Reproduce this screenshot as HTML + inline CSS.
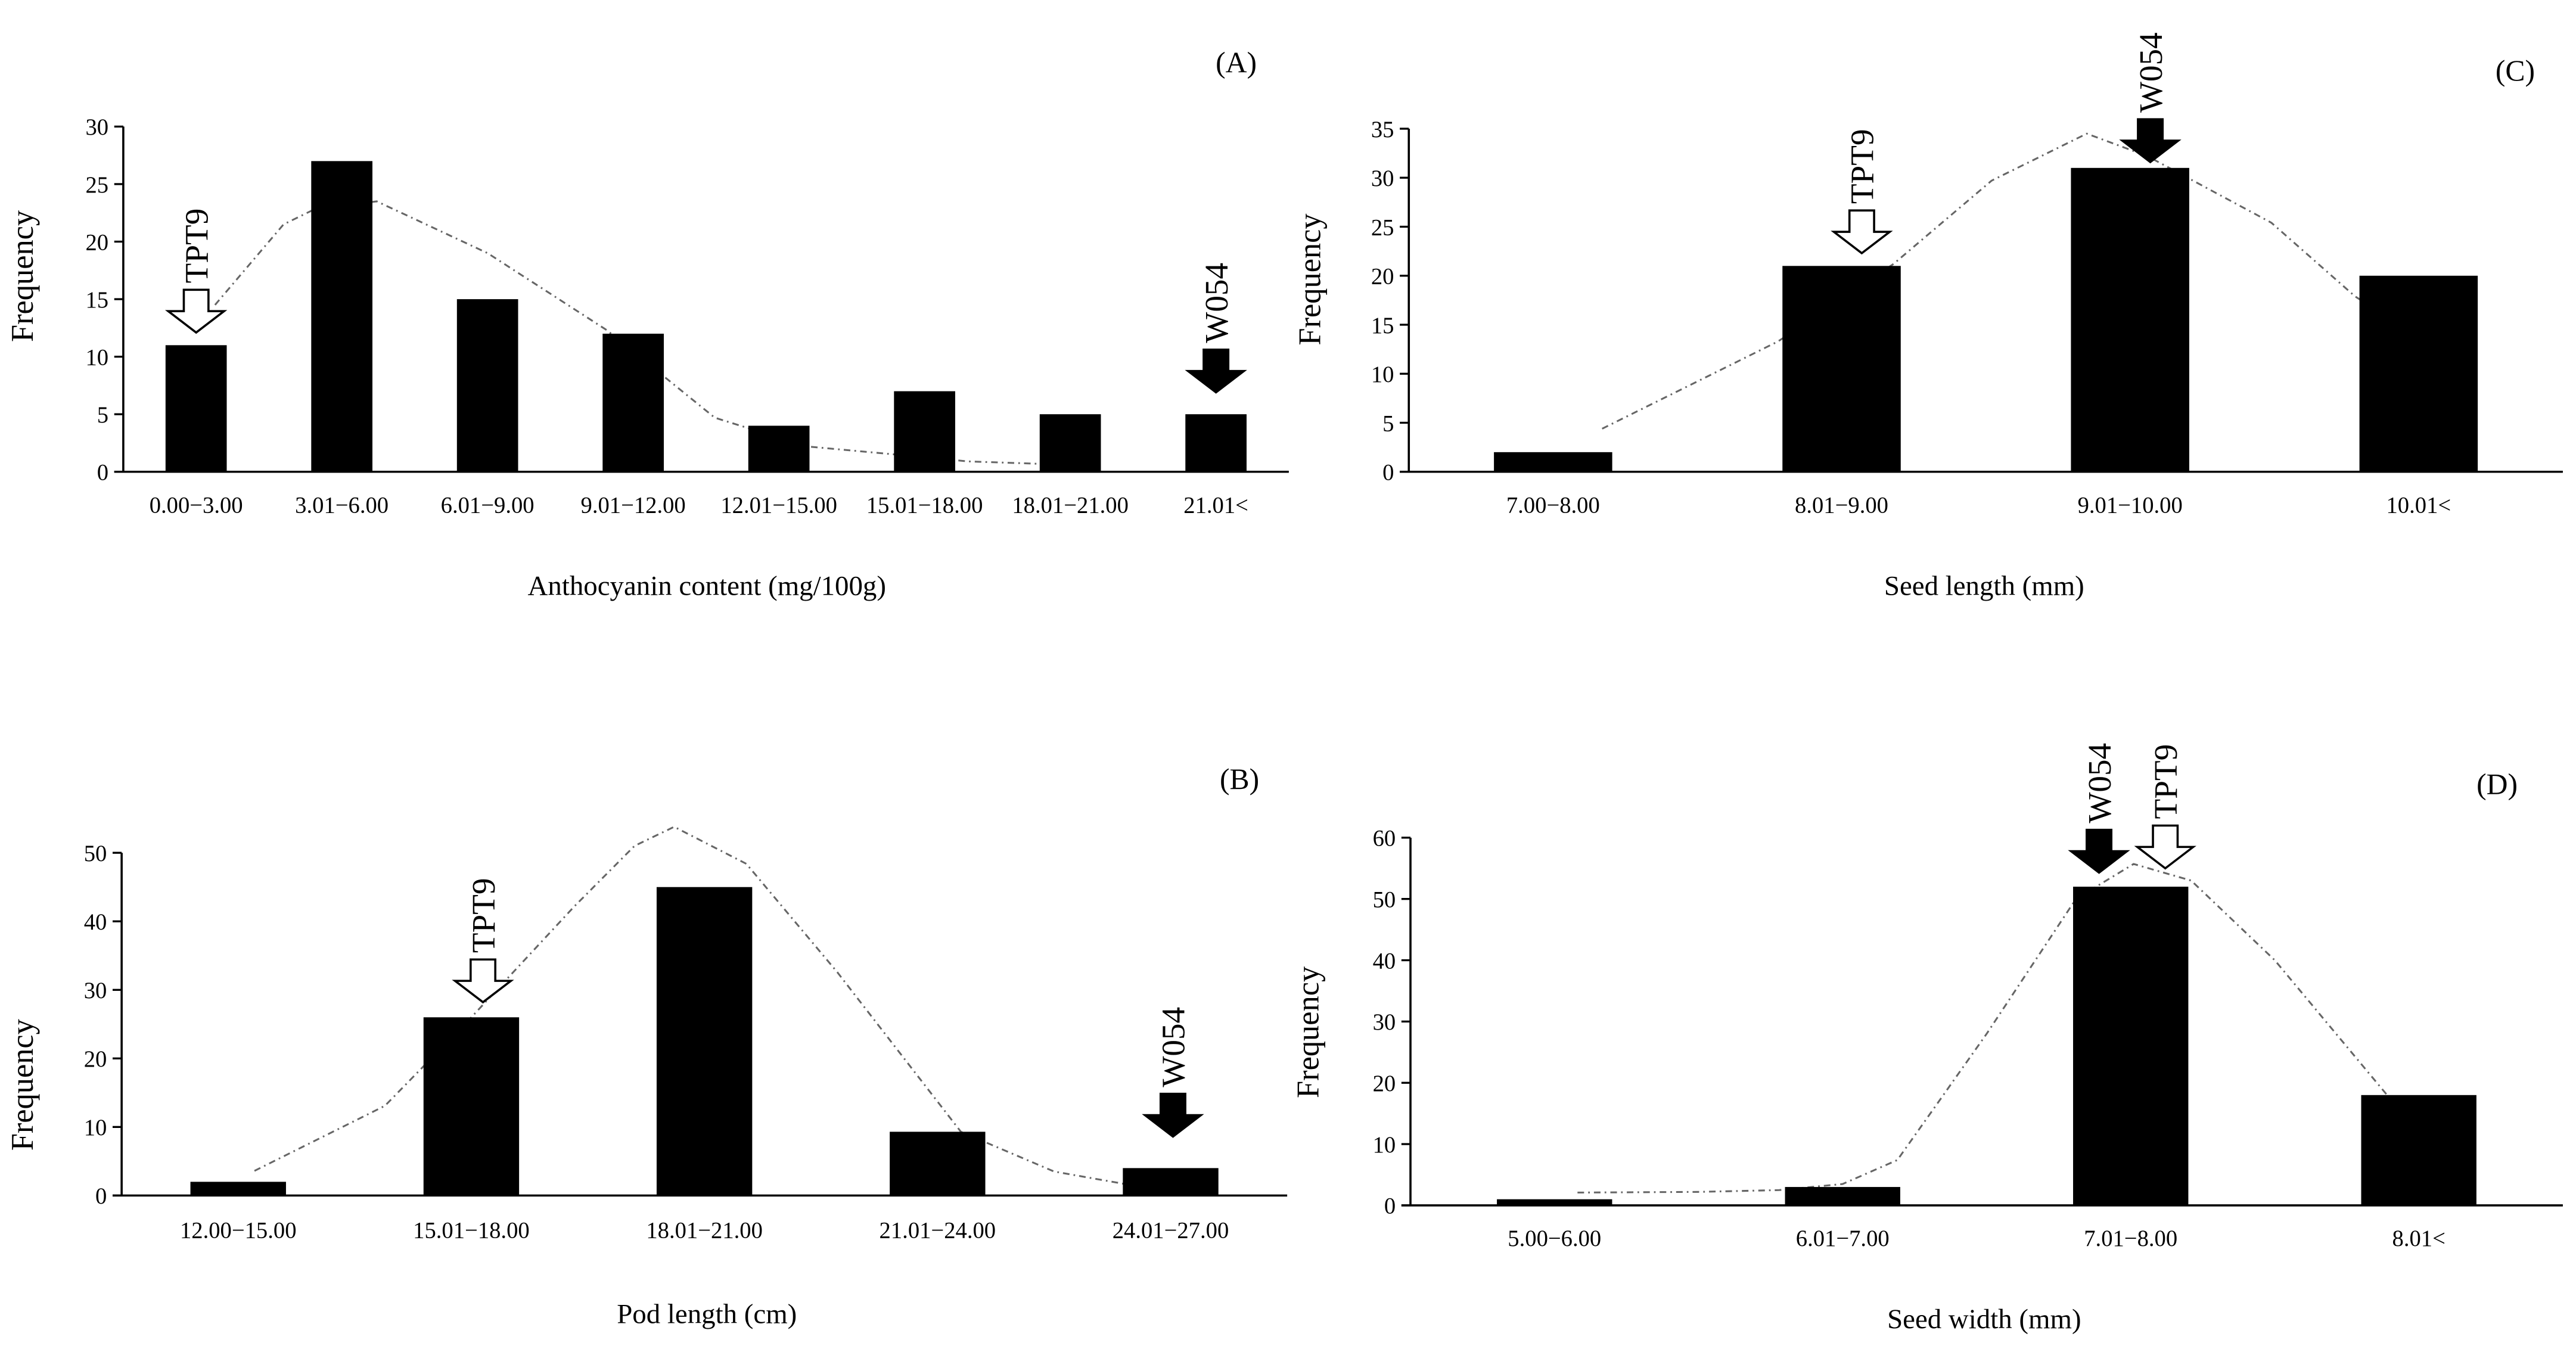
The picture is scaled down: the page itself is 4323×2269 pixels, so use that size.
<!DOCTYPE html>
<html><head><meta charset="utf-8">
<style>
html,body{margin:0;padding:0;background:#fff;}
svg{display:block;}
text{font-family:"Liberation Serif",serif;fill:#000;}
</style></head>
<body>
<svg id="fig" width="4323" height="2269" viewBox="0 0 1567 822.5" preserveAspectRatio="none" xmlns="http://www.w3.org/2000/svg">
<rect x="0" y="0" width="1567" height="822.5" fill="#fff"/>
</svg>
<script>
// Panel A data (curve x in category-index units, 0 = first bar center)
const catsA = ["0.00\u22123.00","3.01\u22126.00","6.01\u22129.00","9.01\u221212.00","12.01\u221215.00","15.01\u221218.00","18.01\u221221.00","21.01<"];
const valsA = [11,27,15,12,4,7,5,5];
const ticksA = [0,5,10,15,20,25,30];
const curveXA = [0.13,0.6,0.81,1.24,2.0,2.82,3.56,4.19,4.8,5.3,6.1];
const curveYA = [14.5,21.5,22.8,23.5,19,12.3,4.7,2.2,1.5,0.9,0.55];
// Panel B data
const catsB = ["12.00\u221215.00","15.01\u221218.00","18.01\u221221.00","21.01\u221224.00","24.01\u221227.00"];
const valsB = [2,26,45,9.3,4];
const ticksB = [0,10,20,30,40,50];
const curveXB = [0.07,0.63,1.0,1.44,1.7,1.87,2.18,2.57,3.1,3.5,3.8];
const curveYB = [3.6,13.1,26,42.1,51,53.8,48.4,32.6,9.3,3.5,1.7];
// Panel C data
const catsC = ["7.00\u22128.00","8.01\u22129.00","9.01\u221210.00","10.01<"];
const valsC = [2,21,31,20];
const ticksC = [0,5,10,15,20,25,30,35];
const curveXC = [0.17,0.78,1.18,1.52,1.85,2.06,2.49,2.78,3.19];
const curveYC = [4.4,13.3,21.2,29.7,34.5,32.2,25.4,17.9,10.1];
// Panel D data
const catsD = ["5.00\u22126.00","6.01\u22127.00","7.01\u22128.00","8.01<"];
const valsD = [1,3,52,18];
const ticksD = [0,10,20,30,40,50,60];
const curveXD = [0.08,0.5,0.78,1.0,1.19,1.5,1.81,2.01,2.21,2.5,2.89];
const curveYD = [2.1,2.2,2.5,3.5,7.4,28,50,55.7,53,40,18];

const NS="http://www.w3.org/2000/svg";
const svg=document.getElementById('fig');
function mk(tag,attrs,parent){const e=document.createElementNS(NS,tag);for(const k in attrs)e.setAttribute(k,attrs[k]);(parent||svg).appendChild(e);return e;}

const panels=[
 {id:'a',label:'(A)',lx:752,ly:44,x0:75,x1:784,y0:287,yTop:77,ymax:30,cats:catsA,vals:valsA,ticks:ticksA,cx:curveXA,cy:curveYA,bw:0.42,
  title:'Anthocyanin content (mg/100g)',tx:430,ty:362,xly:312,fx:20,fy:168,
  arrows:[{kind:'hollow',idx:0.0,tip:12.1,name:'TPT9'},{kind:'filled',idx:7.0,tip:6.9,name:'W054'}]},
 {id:'b',label:'(B)',lx:754,ly:480,x0:74,x1:783,y0:727.3,yTop:518.8,ymax:50,cats:catsB,vals:valsB,ticks:ticksB,cx:curveXB,cy:curveYB,bw:0.41,
  title:'Pod length (cm)',tx:430,ty:805,xly:753,fx:20,fy:660,
  arrows:[{kind:'hollow',idx:1.05,tip:28.2,name:'TPT9'},{kind:'filled',idx:4.01,tip:8.6,name:'W054'}]},
 {id:'c',label:'(C)',lx:1530,ly:49,x0:857,x1:1559,y0:287,yTop:78.3,ymax:35,cats:catsC,vals:valsC,ticks:ticksC,cx:curveXC,cy:curveYC,bw:0.41,
  title:'Seed length (mm)',tx:1207,ty:362,xly:312,fx:803,fy:170,
  arrows:[{kind:'hollow',idx:1.07,tip:22.3,name:'TPT9'},{kind:'filled',idx:2.07,tip:31.6,name:'W054'}]},
 {id:'d',label:'(D)',lx:1519,ly:483,x0:858,x1:1559,y0:733.3,yTop:509.6,ymax:60,cats:catsD,vals:valsD,ticks:ticksD,cx:curveXD,cy:curveYD,bw:0.4,
  title:'Seed width (mm)',tx:1207,ty:808,xly:758,fx:802,fy:628,
  arrows:[{kind:'filled',idx:1.89,tip:54.3,name:'W054'},{kind:'hollow',idx:2.12,tip:55,name:'TPT9'}]}
];

panels.forEach(p=>{
  const g=mk('g',{});
  
  
  const n=p.cats.length, slot=(p.x1-p.x0)/n;
  const X=i=>p.x0+slot*(i+0.5);
  const Y=v=>p.y0-(p.y0-p.yTop)*v/p.ymax;
  // curve drawn first so bars cover it
  let d='';
  for(let i=0;i<p.cx.length;i++){d+=(i?' L':'M')+X(p.cx[i]).toFixed(1)+' '+Y(p.cy[i]).toFixed(1);}
  const c=mk('path',{d:d,fill:'none',stroke:'#666','stroke-width':1.1,'stroke-dasharray':'4 2.5 1 2.5','stroke-linejoin':'round'},g);
  
  
  p.vals.forEach((v,i)=>{
    const r=mk('rect',{x:X(i)-slot*p.bw/2,y:Y(v),width:slot*p.bw,height:p.y0-Y(v),fill:'#000'},g);
    
    
  });
  const ax=mk('line',{x1:p.x0,y1:p.yTop,x2:p.x0,y2:p.y0,stroke:'#000','stroke-width':1.3},g);
  
  
  const bx=mk('line',{x1:p.x0-5.5,y1:p.y0,x2:p.x1,y2:p.y0,stroke:'#000','stroke-width':1.3},g);
  
  
  p.ticks.forEach(t=>{
    mk('line',{x1:p.x0-5.5,y1:Y(t),x2:p.x0,y2:Y(t),stroke:'#000','stroke-width':1.2},g);
    const tl=mk('text',{x:p.x0-9,y:Y(t)+5,'text-anchor':'end','font-size':14},g);
    tl.textContent=t;
    
    
  });
  p.cats.forEach((c2,i)=>{
    const t=mk('text',{x:X(i),y:p.xly,'text-anchor':'middle','font-size':14},g);
    t.textContent=c2;
    
    
  });
  const tt=mk('text',{x:p.tx,y:p.ty,'text-anchor':'middle','font-size':17},g);
  tt.textContent=p.title;
  
  
  const yt=mk('text',{x:0,y:0,'text-anchor':'middle','font-size':19,transform:`translate(${p.fx},${p.fy}) rotate(-90)`},g);
  yt.textContent='Frequency';
  
  
  const pl=mk('text',{x:p.lx,y:p.ly,'text-anchor':'middle','font-size':18,fill:'#444'},g);
  pl.textContent=p.label;
  
  
  p.arrows.forEach(a=>{
    const cx=X(a.idx), ty=Y(a.tip);
    const hw=17, sw=7.5, hh=13, sh=13;
    const pts=[[cx,ty],[cx-hw,ty-hh],[cx-sw,ty-hh],[cx-sw,ty-hh-sh],[cx+sw,ty-hh-sh],[cx+sw,ty-hh],[cx+hw,ty-hh]];
    const ar=mk('polygon',{points:pts.map(q=>q.join(',')).join(' '),fill:a.kind==='filled'?'#000':'#fff',stroke:'#000','stroke-width':1.3},g);
    
    
    const lt=mk('text',{x:0,y:0,'font-size':20,transform:`translate(${cx+7},${ty-hh-sh-4}) rotate(-90)`},g);
    lt.textContent=a.name;
    
    
  });
});
</script>
</body></html>
